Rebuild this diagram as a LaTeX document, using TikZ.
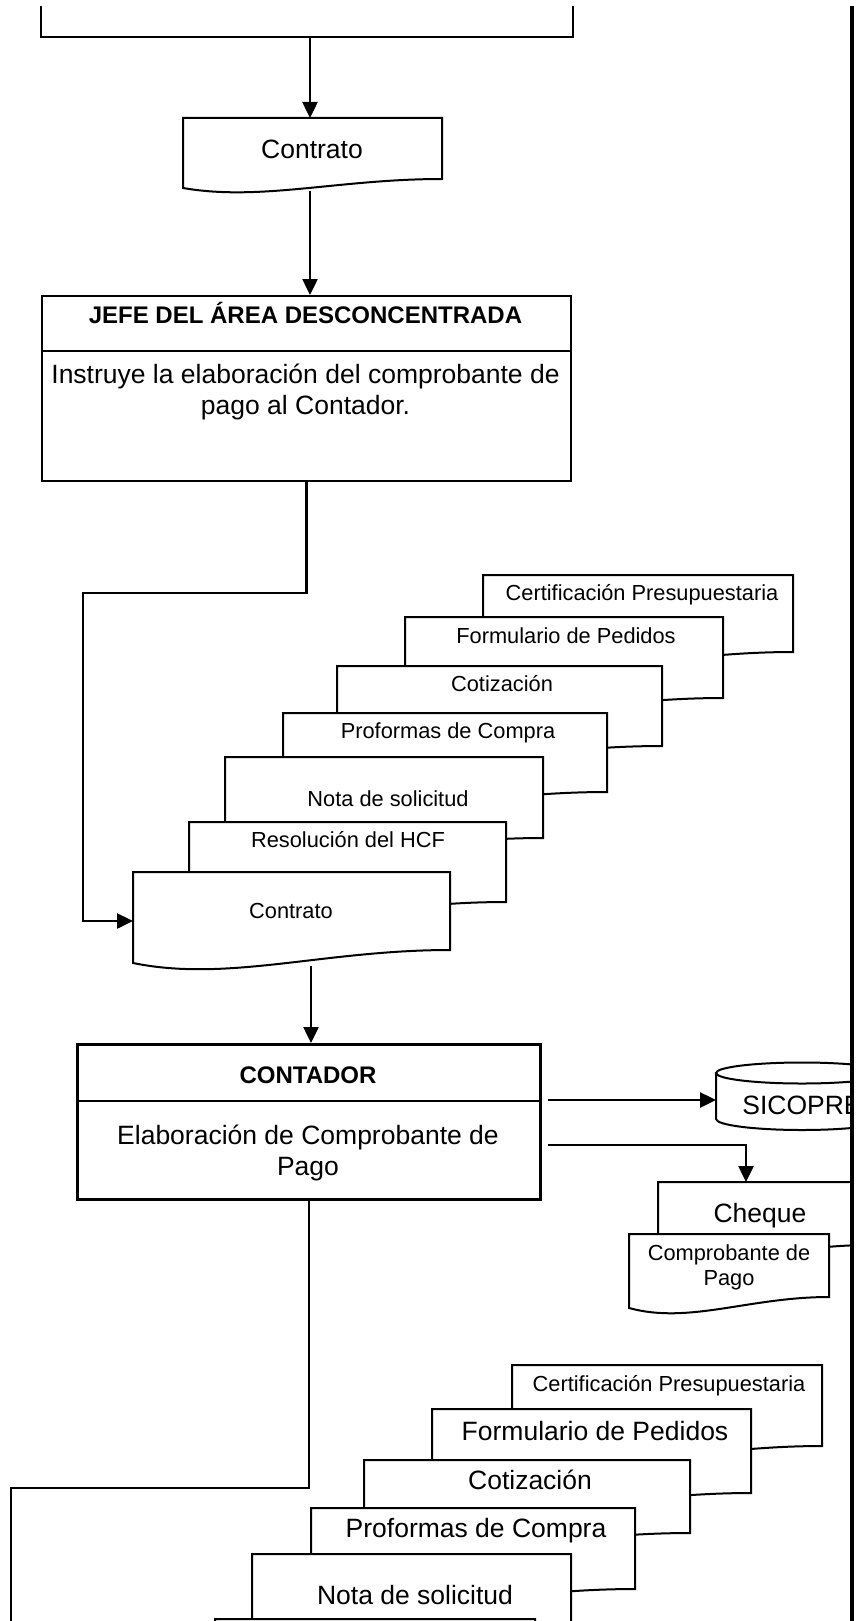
\documentclass[tikz,border=0pt]{standalone}
\usepackage{fontspec}
\setmainfont{Liberation Sans}
\usetikzlibrary{arrows.meta}
\tikzset{
  conn/.style={line width=2.5pt},
  arr/.style={conn,-{Triangle[length=16pt,width=15pt]}},
  docline/.style={line width=2pt,fill=white,line join=miter},
  boxA/.style={draw,line width=2.4pt,inner sep=0pt,anchor=north west},
  boxB/.style={draw,line width=3pt,inner sep=0pt,anchor=north west},
  tbig/.style={font=\fontsize{26.5}{30}\selectfont,anchor=base,inner sep=0pt},
  tsmall/.style={font=\fontsize{21.8}{25}\selectfont,anchor=base,inner sep=0pt},
  ttitle/.style={font=\bfseries\fontsize{24}{28}\selectfont,anchor=base,inner sep=0pt},
}
\newcommand{\docshape}[6]{%
  \pgfmathsetmacro{\mydocw}{#4-#2}%
  \pgfmathsetmacro{\mydoch}{#5-#3}%
  \draw[docline] (#2,#3) -- (#4,#3) -- (#4,#5) .. controls ({#2+0.6*\mydocw},#5) and ({#2+0.3*\mydocw},{#5+2.5*#6}) .. (#2,{#5+#6}) -- cycle;
  \node[inner sep=0pt,minimum width=\mydocw pt,minimum height=\mydoch pt,anchor=north west] (#1) at (#2,#3) {};
}
\begin{document}
\begin{tikzpicture}[x=1pt,y=-1pt]
\useasboundingbox (0,0) rectangle (856,1621);

% top box (cut by the page edge)
\draw[line width=2.4pt] (41,6) -- (41,37) -- (573,37) -- (573,6);
\coordinate (topbox) at (310,37);

% Contrato (top)
\docshape{contr1}{183}{118}{442}{179}{9}
\node[tbig] (contr1t) at (312,159) {Contrato};
\draw[arr] (topbox) -- (310,118);

% JEFE box
\node[boxA,minimum width=529pt,minimum height=185pt] (jefe) at (41,295) {};
\draw[line width=2.2pt] (41,351) -- (570,351);
\node[ttitle] (jefet) at (305.5,323) {JEFE DEL ÁREA DESCONCENTRADA};
\node[tbig] (jefeb1) at (305.5,383) {Instruye la elaboración del comprobante de};
\node[tbig] (jefeb2) at (305.5,414) {pago al Contador.};
\draw[arr] (310,191) -- (310,295);

% first stack of documents (back to front)
\docshape{sa1}{483}{575}{793}{652}{12}
\node[tsmall] (sa1t) at (642,600) {Certificación Presupuestaria};
\docshape{sa2}{405}{617}{723}{698}{12}
\node[tsmall] (sa2t) at (566,643) {Formulario de Pedidos};
\docshape{sa3}{337}{666}{662}{746}{12}
\node[tsmall] (sa3t) at (502,691) {Cotización};
\docshape{sa4}{283}{713}{607}{792}{12}
\node[tsmall] (sa4t) at (448,738) {Proformas de Compra};
\docshape{sa5}{225}{757}{543}{838}{12}
\node[tsmall] (sa5t) at (388,806) {Nota de solicitud};
\docshape{sa6}{189}{822}{506}{902}{12}
\node[tsmall] (sa6t) at (348,847) {Resolución del HCF};
\docshape{sa7}{133}{872}{450}{950}{13}
\node[tsmall] (sa7t) at (291,918) {Contrato};
\coordinate (sa7in) at (133,921);
\draw[arr] (jefe.south) |- (83,593) |- (sa7in);

% CONTADOR box
\node[boxB,minimum width=463pt,minimum height=155pt] (contador) at (76,1043) {};
\draw[line width=2.2pt] (76,1101) -- (539,1101);
\node[ttitle] (contadort) at (308,1083) {CONTADOR};
\node[tbig] (contadorb1) at (308,1144) {Elaboración de Comprobante de};
\node[tbig] (contadorb2) at (308,1175) {Pago};
\draw[arr] (311,966) -- (311,1043);

% right side outputs (clipped by the lane line)
\begin{scope}
  \clip (600,1040) rectangle (850,1330);
  \draw[line width=2pt,fill=white] (716,1073) -- (716,1119) arc[start angle=180,end angle=0,x radius=86,y radius=11] -- (888,1073);
  \draw[line width=2pt,fill=white] (802,1073) ellipse[x radius=86,y radius=10.5];
  \node[tbig] (sicopre) at (802,1114) {SICOPRE};
  \docshape{cheque}{658}{1182}{870}{1245}{10}
  \node[tbig] (chequet) at (760,1222) {Cheque};
  \docshape{comp}{629}{1234}{829}{1297}{11}
  \node[tsmall] (comp1) at (729,1260) {Comprobante de};
  \node[tsmall] (comp2) at (729,1285) {Pago};
\end{scope}
\coordinate (sicin) at (716,1100);
\coordinate (chin) at (746,1182);
\draw[arr] ([xshift=6pt]contador.east |- sicin) -- (sicin);
\draw[arr] ([xshift=6pt]contador.east |- 0,1145) -| (chin);

% connector to the lower part
\coordinate (lowend) at (11,1621);
\draw[conn] (contador.south) |- (11,1488) -- (lowend);

% second stack of documents (back to front)
\docshape{sb1}{512}{1365}{822}{1446}{12}
\node[tsmall] (sb1t) at (669,1391) {Certificación Presupuestaria};
\docshape{sb2}{432}{1409}{751}{1493}{12}
\node[tbig] (sb2t) at (595,1440) {Formulario de Pedidos};
\docshape{sb3}{364}{1460}{690}{1533}{12}
\node[tbig] (sb3t) at (530,1489) {Cotización};
\docshape{sb4}{311}{1508}{635}{1589}{12}
\node[tbig] (sb4t) at (476,1537) {Proformas de Compra};
\docshape{sb5}{252}{1554}{571}{1650}{12}
\node[tbig] (sb5t) at (415,1604) {Nota de solicitud};
\docshape{sb6}{215}{1619}{535}{1700}{12}

% lane line on the right
\draw[line width=4.5pt] (852,6) -- (852,1621);
\end{tikzpicture}
\end{document}
